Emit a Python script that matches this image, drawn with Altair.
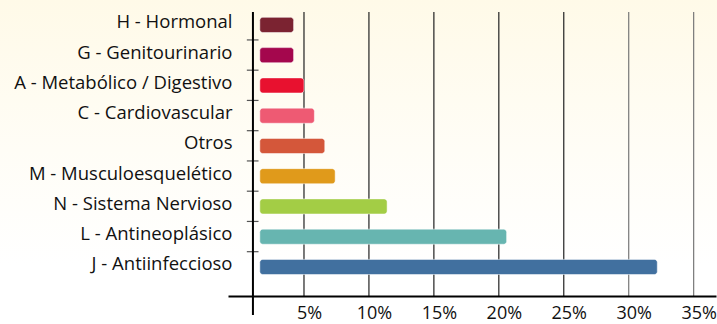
import altair as alt
import pandas as pd

categories = [
    "H - Hormonal",
    "G - Genitourinario",
    "A - Metabólico / Digestivo",
    "C - Cardiovascular",
    "Otros",
    "M - Musculoesquelético",
    "N - Sistema Nervioso",
    "L - Antineoplásico",
    "J - Antiinfeccioso",
]
values = [4.2, 4.2, 5.0, 5.8, 6.6, 7.4, 11.4, 20.6, 32.2]
colors = ["#7b2331", "#a4074d", "#e8112f", "#ee5a73", "#d4573a",
          "#e09a1b", "#a3cd45", "#67b5b0", "#41709f"]
tick_values = [5, 10, 15, 20, 25, 30, 35]
grid_colors = ["#222", "#222", "#222", "#222", "#222", "#777", "#777"]

df = pd.DataFrame({"cat": categories, "val": values, "color": colors})
grid_df = pd.DataFrame({"val": tick_values, "color": grid_colors})
ticks_df = pd.DataFrame({"cat": categories[:-1]})

FONT = "Open Sans"
xscale = alt.Scale(domain=[-0.85, 36.72], nice=False, zero=False)
yscale = alt.Scale(domain=categories, paddingInner=0.5, paddingOuter=0.444, align=0.2)

bg = alt.Chart(pd.DataFrame({"a": [0]})).mark_rect(
    fill=alt.LinearGradient(
        gradient="linear", x1=0, y1=0, x2=0, y2=1,
        stops=[alt.GradientStop(color="#fffae8", offset=0),
               alt.GradientStop(color="#fffdf6", offset=0.45),
               alt.GradientStop(color="#ffffff", offset=0.8)]),
).encode(x=alt.value(-240), x2=alt.value(500), y=alt.value(-12), y2=alt.value(320))

grid = alt.Chart(grid_df).mark_rule(strokeWidth=1.2).encode(
    x=alt.X("val:Q", scale=xscale),
    color=alt.Color("color:N", scale=None),
)

bars = alt.Chart(df).mark_bar(
    cornerRadius=3, stroke="white", strokeOpacity=0.5, strokeWidth=1
).encode(
    y=alt.Y("cat:N", scale=yscale, sort=categories,
            axis=alt.Axis(title=None, domain=False, ticks=False, grid=False,
                          labelFont=FONT, labelFontSize=18.5, labelColor="#111",
                          labelPadding=-4, labelOffset=-2.5, labelLimit=300, zindex=1)),
    x=alt.X("val:Q", scale=xscale,
            axis=alt.Axis(title=None, values=tick_values,
                          labelExpr="datum.value + '%'",
                          labelFont=FONT, labelFontSize=18, labelColor="#111",
                          labelPadding=8, labelOffset=5, ticks=False,
                          domainColor="#000", domainWidth=2,
                          grid=False, zindex=1)),
    x2=alt.datum(1.6),
    color=alt.Color("color:N", scale=None),
)

yticks = alt.Chart(ticks_df).mark_rule(color="#555", strokeWidth=1.2, yOffset=15).encode(
    y=alt.Y("cat:N", scale=yscale, sort=categories),
    x=alt.datum(0.6),
    x2=alt.datum(1.5),
)

yaxis = alt.Chart(pd.DataFrame({"a": [0]})).mark_rule(color="#000", strokeWidth=2).encode(
    x=alt.datum(1.07), y=alt.value(0), y2=alt.value(303)
)

chart = alt.layer(bg, grid, bars, yticks, yaxis).properties(
    width=488, height=284,
    autosize=alt.AutoSizeParams(type="none"),
    padding={"left": 228, "top": 12, "right": 1, "bottom": 28},
    background="white",
).configure_view(stroke=None)

chart.save("out.html", embed_options={"renderer": "svg", "actions": False})
